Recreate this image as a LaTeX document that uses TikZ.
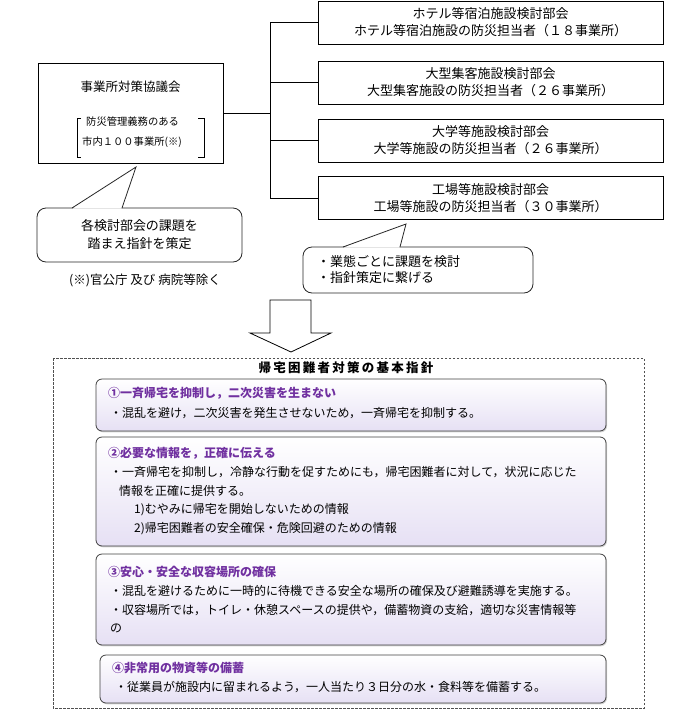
\documentclass[tikz,border=0pt]{standalone}
\usepackage{fontspec}
\setmainfont{Noto Sans CJK JP}
\newfontfamily\titlefont[LetterSpace=18]{Noto Sans CJK JP}
\usetikzlibrary{shadows,calc}
\definecolor{cardtitle}{RGB}{112,48,160}
\definecolor{cardbottom}{RGB}{230,224,244}
\definecolor{frameline}{RGB}{80,80,80}
\begin{document}
\begin{tikzpicture}[x=1pt,y=-1pt,
  box/.style={draw=black, line width=0.8pt, fill=white, inner sep=0pt, align=center, font=\fontsize{13}{17}\selectfont},
  link/.style={draw=black, line width=0.8pt},
  callout/.style={draw=black!85, line width=0.8pt, fill=white, rounded corners=9pt, inner sep=0pt},
  card/.style={draw=black!75, line width=0.8pt, rounded corners=6pt, top color=white, bottom color=cardbottom, inner sep=0pt,
    drop shadow={shadow xshift=1pt, shadow yshift=-1.3pt, opacity=0.35}},
  ctitle/.style={anchor=west, inner sep=0pt, text=cardtitle, font=\fontsize{12}{14}\selectfont\bfseries},
  cbody/.style={anchor=west, inner sep=0pt, font=\fontsize{12}{14}\selectfont},
  small/.style={anchor=west, inner sep=0pt, font=\fontsize{10.3}{12}\selectfont},
  plain/.style={inner sep=0pt, font=\fontsize{13}{18}\selectfont}
]
\useasboundingbox (0,0) rectangle (694,710);

% ---------- top: council and working groups ----------
\node[box, minimum width=185pt, minimum height=100pt] (council) at (130.5,113) {};
\node[plain, font=\fontsize{12.5}{14}\selectfont] (counciltitle) at (130.5,87) {事業所対策協議会};
\node[small] (cline1) at (86,122) {防災管理義務のある};
\node[small] (cline2) at (82,142) {市内１００事業所(※)};
\draw[line width=0.6pt] (81,118) -- (77,118) -- (77,157) -- (81,157);
\draw[line width=0.6pt] (198,118) -- (204,118) -- (204,157) -- (198,157);

\node[box, minimum width=345pt, minimum height=43pt] (hotel) at (490.5,22.5)
  {ホテル等宿泊施設検討部会\\ホテル等宿泊施設の防災担当者（１８事業所）};
\node[box, minimum width=345pt, minimum height=43pt] (large) at (490.5,82.5)
  {大型集客施設検討部会\\大型集客施設の防災担当者（２６事業所）};
\node[box, minimum width=345pt, minimum height=43pt] (univ) at (490.5,140.5)
  {大学等施設検討部会\\大学等施設の防災担当者（２６事業所）};
\node[box, minimum width=345pt, minimum height=43pt] (factory) at (490.5,198)
  {工場等施設検討部会\\工場等施設の防災担当者（３０事業所）};

\coordinate (trunk) at (270,0);
\draw[link] (council.east) -- (council.east -| trunk);
\draw[link] (hotel.west -| trunk) -- (factory.west -| trunk);
\draw[link] (hotel.west -| trunk) -- (hotel.west);
\draw[link] (large.west -| trunk) -- (large.west);
\draw[link] (univ.west -| trunk) -- (univ.west);
\draw[link] (factory.west -| trunk) -- (factory.west);

% ---------- callout 1 ----------
\node[callout, minimum width=205pt, minimum height=54pt] (call1) at (139.5,235) {};
\node[plain, align=center] (call1text) at (call1) {各検討部会の課題を\\踏まえ指針を策定};
\coordinate (c1tip) at (136,167);
\coordinate (c1a) at (72,208);
\coordinate (c1b) at (122,208);
\fill[white] ($(c1a)+(0.6,0.6)$) -- (c1tip) -- ($(c1b)+(-0.6,0.6)$) -- cycle;
\draw[draw=black!85, line width=0.8pt] (c1a) -- (c1tip) -- (c1b);
\node[plain, font=\fontsize{12.5}{14}\selectfont] (note) at (145,280) {(※)官公庁 及び 病院等除く};

% ---------- callout 2 ----------
\node[callout, minimum width=230pt, minimum height=46pt] (call2) at (418,270) {};
\node[plain, anchor=west] (call2a) at (317,262) {・業態ごとに課題を検討};
\node[plain, anchor=west] (call2b) at (317,278) {・指針策定に繋げる};
\coordinate (c2tip) at (406,224);
\coordinate (c2a) at (343,247);
\coordinate (c2b) at (400,247);
\fill[white] ($(c2a)+(0.6,0.6)$) -- (c2tip) -- ($(c2b)+(-0.6,0.6)$) -- cycle;
\draw[draw=black!85, line width=0.8pt] (c2a) -- (c2tip) -- (c2b);

% ---------- big arrow ----------
\draw[line width=0.8pt, fill=white] (270,300) -- (311,300) -- (311,333) -- (331,333)
  -- (291,352) -- (250,333) -- (270,333) -- cycle;

% ---------- policy frame ----------
\draw[draw=frameline, line width=0.6pt, dash pattern=on 2.5pt off 1.5pt] (53,358) rectangle (644,708);
\node[inner sep=0pt, font=\fontsize{12.5}{14}\selectfont\bfseries\titlefont] (ftitle) at (346,368) {帰宅困難者対策の基本指針};

\node[card, minimum width=510pt, minimum height=52pt] (card1) at (351,405) {};
\node[card, minimum width=510pt, minimum height=109pt] (card2) at (351,491.5) {};
\node[card, minimum width=510pt, minimum height=91pt] (card3) at (351,599.5) {};
\node[card, minimum width=506pt, minimum height=48pt] (card4) at (353,679) {};

\node[ctitle] (t1) at (108,393) {①一斉帰宅を抑制し，二次災害を生まない};
\node[cbody] (b1) at (110,413) {・混乱を避け，二次災害を発生させないため，一斉帰宅を抑制する。};

\node[ctitle] (t2) at (108,453) {②必要な情報を，正確に伝える};
\node[cbody] (b2a) at (110,472) {・一斉帰宅を抑制し，冷静な行動を促すためにも，帰宅困難者に対して，状況に応じた};
\node[cbody] (b2b) at (119,491) {情報を正確に提供する。};
\node[cbody] (b2c) at (134,510) {1)むやみに帰宅を開始しないための情報};
\node[cbody] (b2d) at (134,529) {2)帰宅困難者の安全確保・危険回避のための情報};

\node[ctitle] (t3) at (108,572) {③安心・安全な収容場所の確保};
\node[cbody] (b3a) at (110,591) {・混乱を避けるために一時的に待機できる安全な場所の確保及び避難誘導を実施する。};
\node[cbody] (b3b) at (110,610) {・収容場所では，トイレ・休憩スペースの提供や，備蓄物資の支給，適切な災害情報等};
\node[cbody] (b3c) at (110,628) {の};

\node[ctitle] (t4) at (112,668) {④非常用の物資等の備蓄};
\node[cbody] (b4) at (115,687) {・従業員が施設内に留まれるよう，一人当たり３日分の水・食料等を備蓄する。};
\end{tikzpicture}
\end{document}
